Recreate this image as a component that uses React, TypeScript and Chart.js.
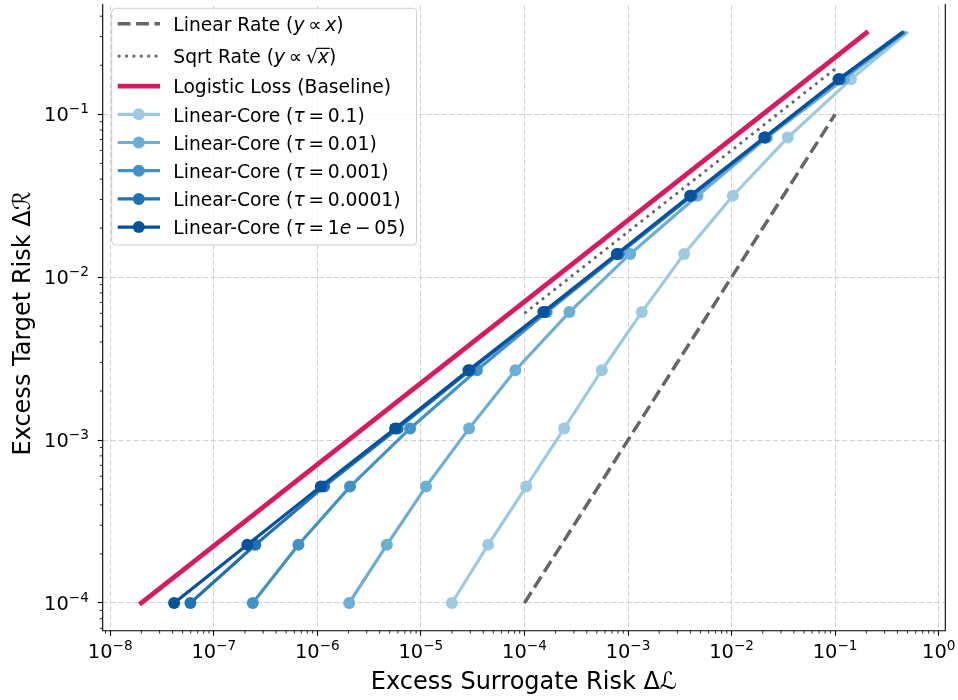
import React, { useEffect, useRef } from "react";
import { Chart, registerables } from "chart.js";

Chart.register(...registerables);

// ---------------- data ----------------
// target-risk levels shared by every Linear-Core curve (last level is the unmarked end point)
const Y_LEVELS = [1e-4, 2.276e-4, 5.18e-4, 1.179e-3, 2.683e-3, 6.105e-3, 1.389e-2, 3.162e-2, 7.197e-2, 0.1638, 0.3162];
const MARKED_POINTS = 10;

const X_TAU_0_1 = [1.99e-5, 4.46e-5, 1.04e-4, 2.42e-4, 5.58e-4, 1.36e-3, 3.48e-3, 1.03e-2, 3.49e-2, 0.142, 0.493];
const X_TAU_0_01 = [2.03e-6, 4.69e-6, 1.12e-5, 2.92e-5, 8.17e-5, 2.72e-4, 1.05e-3, 4.69e-3, 2.19e-2, 0.1205, 0.469];
const X_TAU_0_001 = [2.38e-7, 6.57e-7, 2.07e-6, 7.87e-6, 3.47e-5, 1.64e-4, 8.2e-4, 4.16e-3, 2.13e-2, 0.112, 0.457];
const X_TAU_0_0001 = [5.95e-8, 2.52e-7, 1.16e-6, 5.97e-6, 2.99e-5, 1.57e-4, 7.98e-4, 4.07e-3, 2.1e-2, 0.1094, 0.449];
const X_TAU_1E_05 = [4.14e-8, 2.11e-7, 1.08e-6, 5.64e-6, 2.88e-5, 1.52e-4, 7.8e-4, 3.98e-3, 2.07e-2, 0.1077, 0.44];

const LINEAR_RATE_X = [1e-4, 0.1];
const LINEAR_RATE_Y = [1e-4, 0.1];
const SQRT_RATE_X = [1e-4, 0.1];
const SQRT_RATE_Y = [0.006, 0.19];
const LOGISTIC_X = [2e-8, 0.2];
const LOGISTIC_Y = [1e-4, 0.3162];

const SERIES_LABELS = [
  "Linear Rate (y ∝ x)",
  "Sqrt Rate (y ∝ √x)",
  "Logistic Loss (Baseline)",
  "Linear-Core (τ = 0.1)",
  "Linear-Core (τ = 0.01)",
  "Linear-Core (τ = 0.001)",
  "Linear-Core (τ = 0.0001)",
  "Linear-Core (τ = 1e − 05)",
];
const TAU_SERIES_X = [X_TAU_0_1, X_TAU_0_01, X_TAU_0_001, X_TAU_0_0001, X_TAU_1E_05];
const TAU_COLORS = ["#9ecae1", "#6baed6", "#4292c6", "#2171b5", "#08519c"];

const X_TICK_EXPONENTS = [-8, -7, -6, -5, -4, -3, -2, -1, 0];
const Y_TICK_EXPONENTS = [-4, -3, -2, -1];
const X_TITLE = "Excess Surrogate Risk Δℒ";
const Y_TITLE = "Excess Target Risk Δℛ";

// legend text with math-italic pieces
type Seg = { t: string; i?: boolean; over?: boolean };
const TS = "\u2009";
const LEGEND_TEXT: Seg[][] = [
  [{ t: "Linear Rate (" }, { t: "y", i: true }, { t: TS + "∝" + TS }, { t: "x", i: true }, { t: ")" }],
  [{ t: "Sqrt Rate (" }, { t: "y", i: true }, { t: TS + "∝" + TS + "√" }, { t: "x", i: true, over: true }, { t: ")" }],
  [{ t: "Logistic Loss (Baseline)" }],
  [{ t: "Linear-Core (" }, { t: "τ", i: true }, { t: TS + "=" + TS + "0.1)" }],
  [{ t: "Linear-Core (" }, { t: "τ", i: true }, { t: TS + "=" + TS + "0.01)" }],
  [{ t: "Linear-Core (" }, { t: "τ", i: true }, { t: TS + "=" + TS + "0.001)" }],
  [{ t: "Linear-Core (" }, { t: "τ", i: true }, { t: TS + "=" + TS + "0.0001)" }],
  [{ t: "Linear-Core (" }, { t: "τ", i: true }, { t: TS + "=" + TS + "1" }, { t: "e", i: true }, { t: TS + "−" + TS + "05)" }],
];

// ---------------- styling / layout ----------------
const FONT = '"DejaVu Sans", sans-serif';
const TICK_FS = 19.4;
const SUP_FS = 13.6;
const SUP_RAISE = 7.9;
const TITLE_FS = 24;
const LEG_FS = 18.7;
const AREA = { left: 102.7, right: 945.3, top: 0, bottom: 630.7 };
const GRID_COLOR = "#d0d0d0";
const GRAY = "#666666";
const CRIMSON = "#d81b60";
const MARKER_R = 6;

const supText = (e: number) => (e < 0 ? "\u2212" + Math.abs(e) : String(e));

function drawPower(ctx: CanvasRenderingContext2D, e: number, x: number, baseline: number, align: "center" | "right") {
  const main = `${TICK_FS}px ${FONT}`;
  const sup = `${SUP_FS}px ${FONT}`;
  ctx.font = main;
  const w1 = ctx.measureText("10").width;
  ctx.font = sup;
  const s = supText(e);
  const w2 = ctx.measureText(s).width;
  const total = w1 + w2;
  const x0 = align === "center" ? x - total / 2 : x - total;
  ctx.textAlign = "left";
  ctx.textBaseline = "alphabetic";
  ctx.font = main;
  ctx.fillText("10", x0, baseline);
  ctx.font = sup;
  ctx.fillText(s, x0 + w1, baseline - SUP_RAISE);
}

function drawSegs(ctx: CanvasRenderingContext2D, segs: Seg[], x: number, baseline: number) {
  let cx = x;
  ctx.textAlign = "left";
  ctx.textBaseline = "alphabetic";
  for (const s of segs) {
    ctx.font = `${s.i ? "italic " : ""}${LEG_FS}px ${FONT}`;
    ctx.fillText(s.t, cx, baseline);
    const w = ctx.measureText(s.t).width;
    if (s.over) {
      ctx.save();
      ctx.strokeStyle = "#000";
      ctx.lineWidth = 1.2;
      ctx.beginPath();
      ctx.moveTo(cx - 1, baseline - LEG_FS * 0.8);
      ctx.lineTo(cx + w + 1, baseline - LEG_FS * 0.8);
      ctx.stroke();
      ctx.restore();
    }
    cx += w;
  }
}

const decorPlugin = {
  id: "decor",
  afterDatasetsDraw(chart: any) {
    const ctx: CanvasRenderingContext2D = chart.ctx;
    const xs = chart.scales.x;
    const ys = chart.scales.y;
    const a = chart.chartArea;
    ctx.save();
    // spines
    ctx.strokeStyle = "#000";
    ctx.lineWidth = 1.1;
    ctx.beginPath();
    ctx.moveTo(a.left, a.top - 2);
    ctx.lineTo(a.left, a.bottom);
    ctx.lineTo(a.right, a.bottom);
    ctx.lineTo(a.right, a.top - 2);
    ctx.stroke();
    // minor ticks
    ctx.lineWidth = 0.85;
    ctx.beginPath();
    for (let e = -9; e <= 0; e++) {
      for (let k = 2; k <= 9; k++) {
        const v = k * Math.pow(10, e);
        if (v > xs.min && v < xs.max) {
          const px = xs.getPixelForValue(v);
          ctx.moveTo(px, a.bottom);
          ctx.lineTo(px, a.bottom + 2.9);
        }
        if (v > ys.min && v < ys.max) {
          const py = ys.getPixelForValue(v);
          ctx.moveTo(a.left, py);
          ctx.lineTo(a.left - 2.9, py);
        }
      }
    }
    ctx.stroke();
    // tick labels
    ctx.fillStyle = "#000";
    for (const e of X_TICK_EXPONENTS) {
      drawPower(ctx, e, xs.getPixelForValue(Math.pow(10, e)), 658.3, "center");
    }
    for (const e of Y_TICK_EXPONENTS) {
      drawPower(ctx, e, 88.8, ys.getPixelForValue(Math.pow(10, e)) + 7.1, "right");
    }
    // axis titles
    ctx.font = `${TITLE_FS}px ${FONT}`;
    ctx.textAlign = "center";
    ctx.textBaseline = "alphabetic";
    ctx.fillText(X_TITLE, (a.left + a.right) / 2, 688.8);
    ctx.save();
    ctx.translate(29.5, (a.top + a.bottom) / 2 + 5);
    ctx.rotate(-Math.PI / 2);
    ctx.fillText(Y_TITLE, 0, 0);
    ctx.restore();

    // legend
    const lx = 111.7, ly = 8.3, lw = 305, lh = 236.7, r = 4;
    ctx.beginPath();
    ctx.moveTo(lx + r, ly);
    ctx.lineTo(lx + lw - r, ly);
    ctx.arcTo(lx + lw, ly, lx + lw, ly + r, r);
    ctx.lineTo(lx + lw, ly + lh - r);
    ctx.arcTo(lx + lw, ly + lh, lx + lw - r, ly + lh, r);
    ctx.lineTo(lx + r, ly + lh);
    ctx.arcTo(lx, ly + lh, lx, ly + lh - r, r);
    ctx.lineTo(lx, ly + r);
    ctx.arcTo(lx, ly, lx + r, ly, r);
    ctx.closePath();
    ctx.fillStyle = "rgba(255,255,255,0.8)";
    ctx.fill();
    ctx.strokeStyle = "#cccccc";
    ctx.lineWidth = 1;
    ctx.stroke();

    const baselines = [31, 63.3, 93.3, 121.5, 149.7, 177.9, 206.1, 234.3];
    const hx1 = 117.7, hx2 = 160, hxm = 138.8, tx = 173.3;
    chart.data.datasets.forEach((ds: any, i: number) => {
      const hy = baselines[i] - 7.2;
      ctx.save();
      ctx.strokeStyle = ds.borderColor;
      ctx.lineWidth = ds.borderWidth;
      ctx.setLineDash(ds.borderDash || []);
      ctx.lineCap = ds.borderDash ? "butt" : "square";
      ctx.beginPath();
      ctx.moveTo(hx1 + (ds.borderDash ? 0 : ds.borderWidth / 2), hy);
      ctx.lineTo(hx2 - (ds.borderDash ? 0 : ds.borderWidth / 2), hy);
      ctx.stroke();
      if (i >= 3) {
        ctx.fillStyle = ds.borderColor;
        ctx.beginPath();
        ctx.arc(hxm, hy, MARKER_R, 0, Math.PI * 2);
        ctx.fill();
      }
      ctx.restore();
      ctx.fillStyle = "#000";
      drawSegs(ctx, LEGEND_TEXT[i], tx, baselines[i]);
    });
    ctx.restore();
  },
};

const pts = (xs: number[], ys: number[]) => xs.map((x, i) => ({ x, y: ys[i] }));

export default function App() {
  const ref = useRef<HTMLCanvasElement>(null);
  useEffect(() => {
    const datasets: any[] = [
      {
        label: SERIES_LABELS[0],
        data: pts(LINEAR_RATE_X, LINEAR_RATE_Y),
        borderColor: GRAY,
        borderWidth: 3.5,
        borderDash: [12.8, 5.6],
        borderCapStyle: "butt",
        pointRadius: 0,
      },
      {
        label: SERIES_LABELS[1],
        data: pts(SQRT_RATE_X, SQRT_RATE_Y),
        borderColor: GRAY,
        borderWidth: 2.8,
        borderDash: [2.8, 4.6],
        borderCapStyle: "butt",
        pointRadius: 0,
      },
      {
        label: SERIES_LABELS[2],
        data: pts(LOGISTIC_X, LOGISTIC_Y),
        borderColor: CRIMSON,
        borderWidth: 4.8,
        borderCapStyle: "square",
        pointRadius: 0,
      },
      ...TAU_SERIES_X.map((xs, k) => ({
        label: SERIES_LABELS[3 + k],
        data: pts(xs, Y_LEVELS),
        borderColor: TAU_COLORS[k],
        backgroundColor: TAU_COLORS[k],
        pointBackgroundColor: TAU_COLORS[k],
        pointBorderWidth: 0,
        borderWidth: 3.2,
        borderCapStyle: "square",
        borderJoinStyle: "round",
        pointRadius: (c: any) => (c.dataIndex < MARKED_POINTS ? MARKER_R : 0),
      })),
    ];
    datasets.forEach((d, i) => (d.order = 20 - i));

    const axisCommon = (exps: number[]) => ({
      type: "logarithmic" as const,
      afterBuildTicks: (s: any) => {
        s.ticks = exps.map((e) => ({ value: Math.pow(10, e) }));
      },
      ticks: { display: false },
      grid: {
        color: GRID_COLOR,
        lineWidth: 1,
        drawTicks: true,
        tickLength: 5,
        tickWidth: 1.1,
        tickColor: "#000",
        tickBorderDash: [],
      },
      border: { display: false, dash: [5, 2.7] },
    });

    const chart = new Chart(ref.current!, {
      type: "line",
      data: { datasets },
      plugins: [decorPlugin],
      options: {
        animation: false,
        responsive: false,
        maintainAspectRatio: false,
        events: [],
        layout: { padding: { left: 0, right: 958 - AREA.right, top: AREA.top, bottom: 0 } },
        plugins: { legend: { display: false }, tooltip: { enabled: false } },
        elements: { line: { tension: 0 } },
        scales: {
          x: {
            ...axisCommon(X_TICK_EXPONENTS),
            min: Math.pow(10, -8.0724),
            max: Math.pow(10, 0.0637),
            afterFit: (s: any) => {
              s.height = 700 - AREA.bottom;
              s.paddingLeft = 0;
              s.paddingRight = 0;
            },
          },
          y: {
            ...axisCommon(Y_TICK_EXPONENTS),
            min: Math.pow(10, -4.1702),
            max: Math.pow(10, -0.3354),
            afterFit: (s: any) => {
              s.width = AREA.left;
              s.paddingTop = 0;
              s.paddingBottom = 0;
            },
          },
        },
      } as any,
    });
    return () => chart.destroy();
  }, []);

  return (
    <div style={{ position: "absolute", left: 0, top: 0, width: 958, height: 700, background: "#fff" }}>
      <canvas ref={ref} width={958} height={700} style={{ display: "block", width: 958, height: 700 }} />
    </div>
  );
}
